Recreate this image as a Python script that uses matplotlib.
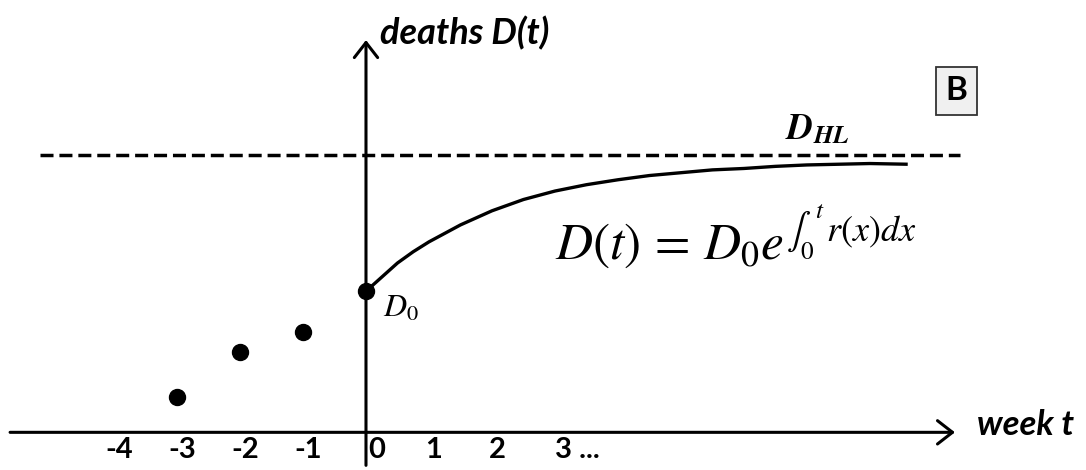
import matplotlib
matplotlib.use('Agg')
import matplotlib.pyplot as plt

plt.rcParams['mathtext.fontset'] = 'stix'

# observed weekly deaths before t=0 and D0
past_weeks = [-3, -2, -1]
past_deaths = [0.25, 0.57, 0.71]
d0 = 1.0

# projected curve D(t)
curve_t = [0, 0.25, 0.5, 0.75, 1.0, 1.5, 2.0, 2.5, 3.0, 3.5, 4.0, 4.5, 5.0, 5.5, 6.0, 6.5, 7.0, 7.5, 8.0, 8.6]
curve_d = [1.00, 1.10, 1.20, 1.28, 1.35, 1.47, 1.57, 1.65, 1.71, 1.755, 1.79, 1.82, 1.84, 1.86, 1.87, 1.885, 1.895, 1.90, 1.905, 1.90]

d_hl = 1.965
tick_vals = [-4, -3, -2, -1, 0, 1, 2, 3]
tick_text = ['-4', '-3', '-2', '-1', '0', '1', '2', '3 ...']

fig = plt.figure(figsize=(10.86, 4.70), dpi=100)
ax = fig.add_axes([0, 0, 1, 1])
ax.set_xlim(-5.81, 11.43)
ax.set_ylim(-0.267, 3.064)
ax.axis('off')

arrow = dict(arrowstyle='->, head_length=0.54, head_width=0.42', lw=2.2,
             color='black', mutation_scale=20, shrinkA=0, shrinkB=0)
ax.annotate('', xy=(9.35, 0), xytext=(-5.65, 0), arrowprops=arrow)
ax.annotate('', xy=(0, 2.78), xytext=(0, -0.234), arrowprops=arrow)

ax.plot([-5.17, 9.43], [d_hl, d_hl], color='black', lw=2.5, dashes=(3.75, 1.7))
ax.plot(curve_t, curve_d, color='black', lw=2.4, solid_capstyle='butt', zorder=3)
ax.plot(past_weeks, past_deaths, 'o', color='black', ms=11.5, zorder=4)
ax.plot([0], [d0], 'o', color='black', ms=11.5, zorder=4)

for v, s in zip(tick_vals, tick_text):
    nudge = 0.17 if v == 0 else 0.08
    if s.startswith('3'):
        ax.text(v + nudge - 0.08, -0.128, s, ha='left', va='center',
                fontsize=21, fontweight='bold', family='Lato')
    else:
        ax.text(v + nudge, -0.128, s, ha='center', va='center',
                fontsize=21, fontweight='bold', family='Lato')

ax.text(0.22, 2.83, 'deaths D(t)', ha='left', va='center', fontsize=26,
        fontweight='bold', style='italic', family='Lato')
ax.text(9.70, 0.05, 'week t', ha='left', va='center', fontsize=25,
        fontweight='bold', style='italic', family='Lato')

ax.text(9.37, 2.42, 'B', ha='center', va='center', fontsize=24, fontweight='bold',
        family='Lato', bbox=dict(boxstyle='square,pad=0.28', fc='#f0f0f0', ec='#333333', lw=1.3))

ax.text(7.17, 2.15, r'$\mathbfit{D}_{\mathbfit{HL}}$', ha='center', va='center', fontsize=26)
ax.text(0.27, 0.816, r'$D_0$', ha='left', va='baseline', fontsize=23)
ax.text(3.0, 1.22, r'$D(t)\,=\,D_0e^{\int_0^{\,t}\,r(x)dx}$', ha='left', va='baseline', fontsize=37)

fig.savefig('out.png', dpi=100)
